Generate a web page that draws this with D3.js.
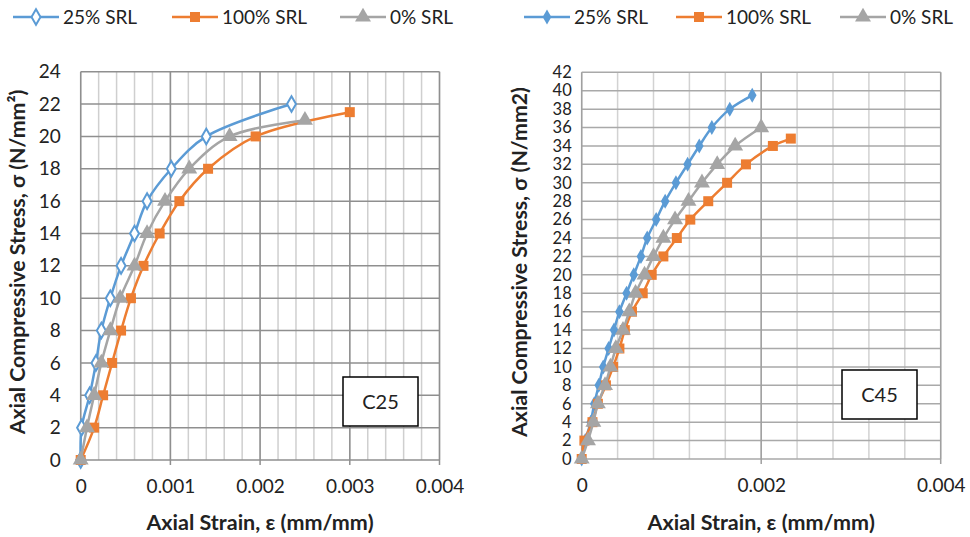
<!DOCTYPE html>
<html>
<head>
<meta charset="utf-8">
<script src="https://cdn.jsdelivr.net/npm/d3@7"></script>
<style>
  body { margin: 0; background: #fff; }
  svg { display: block; font-family: Lato, "Open Sans", sans-serif; }
</style>
</head>
<body>
<svg id="chart" width="970" height="537"></svg>
<script>
// --- Data ---
const seriesNames = ['25% SRL', '100% SRL', '0% SRL'];
const seriesColors = ['#5b9bd5', '#ed7d31', '#a5a5a5'];

// C25 panel
const c25Stress25 = [0, 2, 4, 6, 8, 10, 12, 14, 16, 18, 20, 22];
const c25Strain25 = [0, 0.00001, 0.0001, 0.00017, 0.00023, 0.00033, 0.00045, 0.0006, 0.00074, 0.00101, 0.0014, 0.00235];
const c25Stress100 = [0, 2, 4, 6, 8, 10, 12, 14, 16, 18, 20, 21.5];
const c25Strain100 = [0, 0.00015, 0.00025, 0.00035, 0.00045, 0.00056, 0.0007, 0.00088, 0.0011, 0.00142, 0.00195, 0.003];
const c25Stress0 = [0, 2, 4, 6, 8, 10, 12, 14, 16, 18, 20, 21];
const c25Strain0 = [0, 0.00007, 0.00015, 0.00023, 0.00033, 0.00044, 0.0006, 0.00074, 0.00094, 0.00121, 0.00166, 0.0025];

// C45 panel
const c45Stress25 = [0, 2, 4, 6, 8, 10, 12, 14, 16, 18, 20, 22, 24, 26, 28, 30, 32, 34, 36, 38, 39.5];
const c45Strain25 = [0, 0.00004, 0.0001, 0.00014, 0.00019, 0.00024, 0.0003, 0.00036, 0.00042, 0.0005, 0.00058, 0.00066, 0.00073, 0.00083, 0.00093, 0.00105, 0.00118, 0.00131, 0.00145, 0.00165, 0.0019];
const c45Stress100 = [0, 2, 4, 6, 8, 10, 12, 14, 16, 18, 20, 22, 24, 26, 28, 30, 32, 34, 34.8];
const c45Strain100 = [0, 0.00003, 0.00012, 0.00018, 0.00027, 0.00035, 0.00042, 0.00048, 0.00056, 0.00068, 0.00078, 0.00091, 0.00106, 0.00121, 0.00141, 0.00162, 0.00183, 0.00213, 0.00233];
const c45Stress0 = [0, 2, 4, 6, 8, 10, 12, 14, 16, 18, 20, 22, 24, 26, 28, 30, 32, 34, 36];
const c45Strain0 = [0, 0.00007, 0.00013, 0.00018, 0.00026, 0.00032, 0.00038, 0.00046, 0.00053, 0.0006, 0.0007, 0.0008, 0.00091, 0.00104, 0.00119, 0.00134, 0.00151, 0.00171, 0.002];

const c25XTicks = [0, 0.001, 0.002, 0.003, 0.004];
const c45XTicks = [0, 0.002, 0.004];

const svg = d3.select('#chart');

function zip(xs, ys) { return xs.map((x, i) => ({ x, y: ys[i] })); }

function drawPanel(opt) {
  const g = svg.append('g');
  const x = d3.scaleLinear().domain([0, 0.004]).range([opt.left, opt.right]);
  const y = d3.scaleLinear().domain([0, opt.yMax]).range([opt.bottom, opt.top]);

  // minor vertical grid
  const minor = d3.range(0, 0.004 + 1e-9, opt.minorStep);
  g.selectAll('.vminor').data(minor).enter().append('line')
    .attr('x1', d => x(d)).attr('x2', d => x(d))
    .attr('y1', opt.top).attr('y2', opt.bottom)
    .attr('stroke', opt.minorColor).attr('stroke-width', 1.5);

  // horizontal grid
  g.selectAll('.hgrid').data(d3.range(0, opt.yMax + 0.01, 2)).enter().append('line')
    .attr('x1', opt.left).attr('x2', opt.right)
    .attr('y1', d => y(d)).attr('y2', d => y(d))
    .attr('stroke', opt.hColor).attr('stroke-width', 1.5);

  // major vertical grid (with little tick below axis)
  g.selectAll('.vmajor').data(opt.xTicks).enter().append('line')
    .attr('x1', d => x(d)).attr('x2', d => x(d))
    .attr('y1', opt.top).attr('y2', opt.bottom + 5)
    .attr('stroke', opt.majorColor).attr('stroke-width', 1.5);

  // axes labels
  const yAxis = d3.axisLeft(y).tickValues(d3.range(0, opt.yMax + 0.01, 2)).tickSize(0).tickPadding(opt.yPad);
  g.append('g').attr('transform', `translate(${opt.left},0)`).call(yAxis)
    .call(a => a.select('.domain').remove())
    .selectAll('text').attr('font-family', 'Lato, sans-serif').attr('font-size', opt.yFont).attr('fill', '#222');

  const xAxis = d3.axisBottom(x).tickValues(opt.xTicks).tickSize(0).tickPadding(20)
    .tickFormat(d => d === 0 ? '0' : d3.format('.3f')(d));
  g.append('g').attr('transform', `translate(0,${opt.bottom})`).call(xAxis)
    .call(a => a.select('.domain').remove())
    .selectAll('text').attr('font-family', 'Lato, sans-serif').attr('font-size', 19).attr('fill', '#222');

  // axis titles
  g.append('text')
    .attr('x', (opt.left + opt.right) / 2).attr('y', 530)
    .attr('text-anchor', 'middle').attr('font-weight', 'bold').attr('font-size', 21.5).attr('fill', '#222')
    .text('Axial Strain, ε (mm/mm)');
  g.append('text')
    .attr('transform', `translate(${opt.yTitleX},262) rotate(-90)`)
    .attr('text-anchor', 'middle').attr('font-weight', 'bold').attr('font-size', 21.3).attr('fill', '#222')
    .text(opt.yTitle);

  // series
  const line = d3.line().x(d => x(d.x)).y(d => y(d.y)).curve(d3.curveCatmullRom.alpha(0.5));
  const symbols = [d3.symbolDiamond, d3.symbolSquare, d3.symbolTriangle];
  const sizes = [opt.diamondSize, 100, 110];
  opt.series.forEach((pts, i) => {
    g.append('path').datum(pts).attr('d', line)
      .attr('fill', 'none').attr('stroke', seriesColors[i]).attr('stroke-width', 2.5);
    g.selectAll('.m' + i).data(pts).enter().append('path')
      .attr('transform', d => `translate(${x(d.x)},${y(d.y)})`)
      .attr('d', d3.symbol().type(symbols[i]).size(sizes[i]))
      .attr('fill', i === 0 && opt.openDiamond ? '#fff' : seriesColors[i])
      .attr('stroke', seriesColors[i]).attr('stroke-width', i === 0 && opt.openDiamond ? 2 : 0);
  });

  // legend
  opt.legend.forEach((lx, i) => {
    const lg = g.append('g').attr('transform', `translate(${lx},17)`);
    lg.append('line').attr('x1', 0).attr('x2', 46).attr('stroke', seriesColors[i]).attr('stroke-width', 2.5);
    lg.append('path').attr('transform', 'translate(23,0)')
      .attr('d', d3.symbol().type(symbols[i]).size(sizes[i]))
      .attr('fill', i === 0 && opt.openDiamond ? '#fff' : seriesColors[i])
      .attr('stroke', seriesColors[i]).attr('stroke-width', i === 0 && opt.openDiamond ? 2 : 0);
    lg.append('text').attr('x', 50).attr('y', 7).attr('font-size', 19).attr('fill', '#222')
      .text(seriesNames[i]);
  });

  // label box
  g.append('rect').attr('x', opt.box[0]).attr('y', opt.box[1]).attr('width', 75).attr('height', 49)
    .attr('fill', '#fff').attr('stroke', '#000').attr('stroke-width', 1.5);
  g.append('text').attr('x', opt.box[0] + 37.5).attr('y', opt.box[1] + 32)
    .attr('text-anchor', 'middle').attr('font-size', 20).attr('fill', '#222').text(opt.label);
}

drawPanel({
  left: 80.7, right: 439.5, top: 71.7, bottom: 460, yMax: 24,
  minorStep: 0.0002, xTicks: c25XTicks, yPad: 20, yFont: 19,
  minorColor: '#cfcfcf', hColor: '#8f8f8f', majorColor: '#8f8f8f',
  yTitleX: 25, yTitle: 'Axial Compressive Stress, σ (N/mm²)',
  series: [zip(c25Strain25, c25Stress25), zip(c25Strain100, c25Stress100), zip(c25Strain0, c25Stress0)],
  openDiamond: true, diamondSize: 70,
  legend: [13, 172, 340],
  box: [343, 377], label: 'C25'
});

drawPanel({
  left: 581.7, right: 940.7, top: 72.3, bottom: 459, yMax: 42,
  minorStep: 0.0004, xTicks: c45XTicks, yPad: 10, yFont: 16.5,
  minorColor: '#d2d2d2', hColor: '#a9a9a9', majorColor: '#a0a0a0',
  yTitleX: 527, yTitle: 'Axial Compressive Stress, σ (N/mm2)',
  series: [zip(c45Strain25, c45Stress25), zip(c45Strain100, c45Stress100), zip(c45Strain0, c45Stress0)],
  openDiamond: false, diamondSize: 65,
  legend: [524, 676, 840],
  box: [842, 370], label: 'C45'
});
</script>
</body>
</html>
